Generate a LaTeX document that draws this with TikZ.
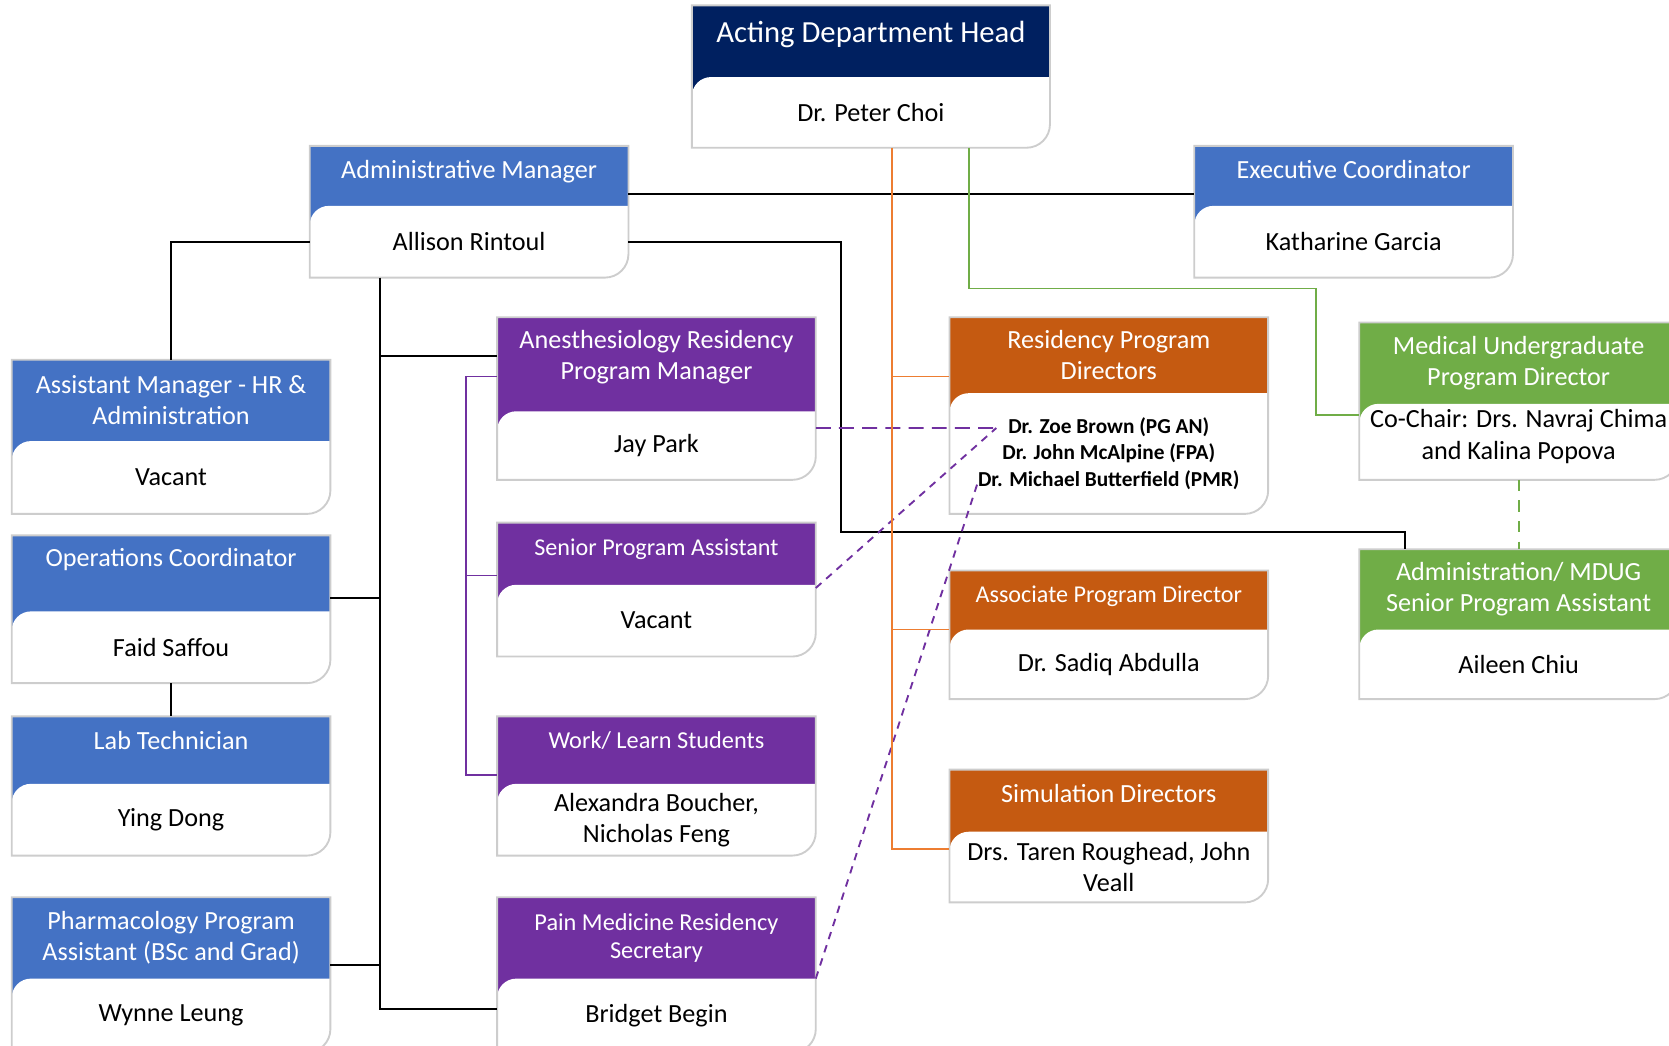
\documentclass[tikz,border=0pt]{standalone}
\usepackage{fontspec}
\setmainfont{Carlito}
\usepackage{tikz}
\usetikzlibrary{positioning,backgrounds,calc}
\definecolor{navyHead}{HTML}{002060}
\definecolor{blueHead}{HTML}{4472C4}
\definecolor{purpleHead}{HTML}{7030A0}
\definecolor{orangeHead}{HTML}{C55A11}
\definecolor{greenHead}{HTML}{70AD47}
\definecolor{orangeLine}{HTML}{ED7D31}
\definecolor{edgeGray}{HTML}{CDCDCD}
\newcommand{\titlefont}{\fontsize{7}{8.3}\selectfont}
\newcommand{\namefont}{\fontsize{7}{8.3}\selectfont}
\tikzstyle{titleBox} = [rectangle, anchor=north west, minimum width=2.98cm, inner sep=0pt, align=center, text=white, font=\titlefont]
\tikzstyle{nameBox} = [rectangle, minimum width=2.98cm, inner sep=0pt, align=center, text=black, font=\namefont]
\tikzstyle{boxEdge} = [draw=edgeGray, line width=0.5pt]
\tikzstyle{link} = [draw=black, line width=0.55pt]
\tikzstyle{orangeLink} = [draw=orangeLine, line width=0.5pt]
\tikzstyle{greenLink} = [draw=greenHead, line width=0.5pt]
\tikzstyle{greenDash} = [draw=greenHead, line width=0.5pt, dash pattern=on 3pt off 2.5pt]
\tikzstyle{purpleLink} = [draw=purpleHead, line width=0.5pt]
\tikzstyle{purpleDash} = [draw=purpleHead, line width=0.5pt, dash pattern=on 4pt off 2.2pt]
\tikzstyle{purpleDot} = [draw=purpleHead, line width=0.5pt, dash pattern=on 2pt off 1.7pt]
\tikzset{lift/.style={text height=0.19cm, text depth=#1}}

\begin{document}
\begin{tikzpicture}
\useasboundingbox (0,0) rectangle (15.68,-9.82);
% Draw shapes
\node (hdTitle) [titleBox, minimum width=3.35cm, minimum height=0.66cm, lift=0.16cm, font=\fontsize{8.2}{9.8}\selectfont] at (6.50,-0.05)
{Acting Department Head};
\node (hdName) [nameBox, minimum width=3.35cm, minimum height=0.65cm, below=0pt of hdTitle]
{Dr. Peter Choi};
\node (amTitle) [titleBox, minimum height=0.55cm, lift=0.14cm] at (2.91,-1.37)
{Administrative Manager};
\node (amName) [nameBox, minimum height=0.66cm, below=0pt of amTitle]
{Allison Rintoul};
\node (ecTitle) [titleBox, minimum height=0.55cm, lift=0.14cm] at (11.22,-1.37)
{Executive Coordinator};
\node (ecName) [nameBox, minimum height=0.66cm, below=0pt of ecTitle]
{Katharine Garcia};
\node (ahTitle) [titleBox, minimum height=0.75cm] at (0.11,-3.38)
{Assistant Manager - HR \&\\Administration};
\node (ahName) [nameBox, minimum height=0.67cm, below=0pt of ahTitle]
{Vacant};
\node (ocTitle) [titleBox, minimum height=0.70cm, lift=0.32cm] at (0.11,-5.03)
{Operations Coordinator};
\node (ocName) [nameBox, minimum height=0.66cm, below=0pt of ocTitle]
{Faid Saffou};
\node (ltTitle) [titleBox, minimum height=0.62cm, lift=0.20cm] at (0.11,-6.73)
{Lab Technician};
\node (ltName) [nameBox, minimum height=0.66cm, below=0pt of ltTitle]
{Ying Dong};
\node (phTitle) [titleBox, minimum height=0.75cm] at (0.11,-8.43)
{Pharmacology Program\\Assistant (BSc and Grad)};
\node (phName) [nameBox, minimum height=0.68cm, below=0pt of phTitle]
{Wynne Leung};
\node (arTitle) [titleBox, minimum height=0.87cm, text depth=0.17cm] at (4.67,-2.98)
{Anesthesiology Residency\\Program Manager};
\node (arName) [nameBox, minimum height=0.63cm, below=0pt of arTitle]
{Jay Park};
\node (spTitle) [titleBox, minimum height=0.57cm, lift=0.16cm, font=\fontsize{6.45}{7.7}\selectfont] at (4.67,-4.91)
{Senior Program Assistant};
\node (spName) [nameBox, minimum height=0.66cm, below=0pt of spTitle]
{Vacant};
\node (wlTitle) [titleBox, minimum height=0.62cm, lift=0.22cm, font=\fontsize{6.5}{7.7}\selectfont] at (4.67,-6.73)
{Work/ Learn Students};
\node (wlName) [nameBox, minimum height=0.66cm, below=0pt of wlTitle]
{Alexandra Boucher,\\Nicholas Feng};
\node (pmTitle) [titleBox, minimum height=0.75cm, font=\fontsize{6.5}{7.7}\selectfont] at (4.67,-8.43)
{Pain Medicine Residency\\Secretary};
\node (pmName) [nameBox, minimum height=0.68cm, below=0pt of pmTitle]
{Bridget Begin};
\node (rdTitle) [titleBox, minimum height=0.70cm] at (8.92,-2.98)
{Residency Program\\Directors};
\node (rdName) [nameBox, minimum height=1.12cm, below=0pt of rdTitle, font=\bfseries\fontsize{5.7}{7.1}\selectfont]
{Dr. Zoe Brown (PG AN)\\Dr. John McAlpine (FPA)\\Dr. Michael Butterfield (PMR)};
\node (apTitle) [titleBox, minimum height=0.54cm, lift=0.14cm, font=\fontsize{6.45}{7.7}\selectfont] at (8.92,-5.36)
{Associate Program Director};
\node (apName) [nameBox, minimum height=0.64cm, below=0pt of apTitle]
{Dr. Sadiq Abdulla};
\node (sdTitle) [titleBox, minimum height=0.57cm, lift=0.16cm] at (8.92,-7.23)
{Simulation Directors};
\node (sdName) [nameBox, minimum height=0.65cm, below=0pt of sdTitle]
{Drs. Taren Roughead, John\\Veall};
\node (muTitle) [titleBox, minimum height=0.75cm] at (12.77,-3.03)
{Medical Undergraduate\\Program Director};
\node (muName) [nameBox, minimum height=0.70cm, text depth=0.14cm, below=0pt of muTitle]
{Co-Chair: Drs. Navraj Chima\\and Kalina Popova};
\node (msTitle) [titleBox, minimum height=0.74cm] at (12.77,-5.16)
{Administration/ MDUG\\Senior Program Assistant};
\node (msName) [nameBox, minimum height=0.64cm, below=0pt of msTitle]
{Aileen Chiu};
% Box backgrounds
\begin{scope}[on background layer]
\foreach \n/\c in {hd/navyHead, am/blueHead, ec/blueHead, ah/blueHead, oc/blueHead, lt/blueHead, ph/blueHead, ar/purpleHead, sp/purpleHead, wl/purpleHead, pm/purpleHead, rd/orangeHead, ap/orangeHead, sd/orangeHead, mu/greenHead, ms/greenHead}
{
\fill [\c] (\n Title.north west) rectangle ([yshift=-0.2cm]\n Name.north east);
\fill [white] (\n Name.south west) -- ([yshift=-0.18cm]\n Name.north west) arc[start angle=180, end angle=90, radius=0.18cm] -- (\n Name.north east) -- ([yshift=0.22cm]\n Name.south east) arc[start angle=0, end angle=-90, radius=0.22cm] -- cycle;
\draw [boxEdge] (\n Title.north west) -- (\n Title.north east) -- ([yshift=0.22cm]\n Name.south east) arc[start angle=0, end angle=-90, radius=0.22cm] -- (\n Name.south west) -- cycle;
}
\end{scope}
% Draw lines
\coordinate (amSide) at ([yshift=-0.175cm]amTitle.east);
\draw [link] (amSide) -- (amSide -| ecTitle.west);
\draw [link] (amName.west) -| (ahTitle.north);
\coordinate (bend) at (7.90,-5.00);
\coordinate (msTop) at ([xshift=0.43cm]msTitle.north west);
\draw [link] (amName.east) -| (bend) -| (msTop);
\coordinate (trunk) at ([xshift=0.66cm]amName.south west);
\coordinate (pmSide) at ([yshift=0.06cm]pmName.west);
\draw [link] (trunk) |- (pmSide);
\coordinate (arSide) at ([yshift=0.075cm]arTitle.west);
\draw [link] (arSide) -- (arSide -| trunk);
\coordinate (ocSide) at ([yshift=-0.23cm]ocTitle.east);
\draw [link] (ocSide) -- (ocSide -| trunk);
\coordinate (phSide) at ([yshift=-0.25cm]phTitle.east);
\draw [link] (phSide) -- (phSide -| trunk);
\draw [link] (ocName.south) -- (ltTitle.north);
% purple
\coordinate (arLeft) at ([yshift=-0.115cm]arTitle.west);
\coordinate (spLeft) at ([yshift=-0.205cm]spTitle.west);
\coordinate (wlLeft) at ([yshift=-0.23cm]wlTitle.west);
\coordinate (rail) at ([xshift=-0.29cm]arLeft);
\draw [purpleLink] (arLeft) -- (rail) |- (wlLeft);
\draw [purpleLink] (spLeft) -- (spLeft -| rail);
\coordinate (rdTop) at ([xshift=0.44cm, yshift=0.24cm]rdName.west);
\coordinate (rdLow) at ([xshift=0.26cm, yshift=-0.29cm]rdName.west);
\draw [purpleDash] ([yshift=0.165cm]arName.east) -- (rdTop);
\draw [purpleDot] ([yshift=-0.03cm]spName.north east) -- (rdTop);
\draw [purpleDot] (pmTitle.south east) -- (rdLow);
% orange
\coordinate (orTop) at ([xshift=0.2cm]hdName.south);
\coordinate (sdSide) at ([yshift=0.17cm]sdName.west);
\draw [orangeLink] (orTop) |- (sdSide);
\coordinate (rdSide) at ([yshift=-0.20cm]rdTitle.west);
\draw [orangeLink] (rdSide) -- (rdSide -| orTop);
\draw [orangeLink] (apTitle.south west) -- (apTitle.south west -| orTop);
% green
\coordinate (grTop) at ([xshift=0.925cm]hdName.south);
\coordinate (grBend) at (12.36,-2.71);
\coordinate (muSide) at ([yshift=0.25cm]muName.west);
\draw [greenLink] (grTop) |- (grBend) |- (muSide);
\draw [greenDash] (muName.south) -- (msTitle.north);
\end{tikzpicture}
\end{document}
